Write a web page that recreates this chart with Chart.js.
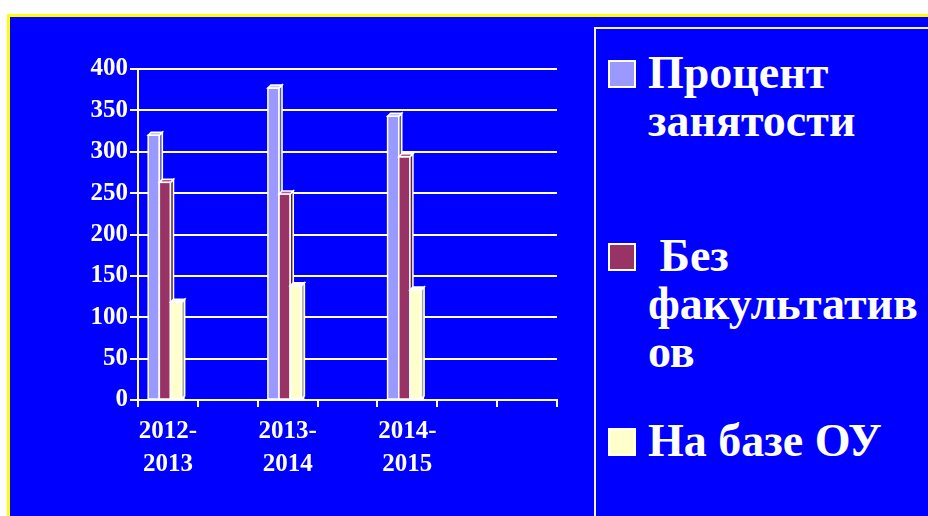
<!DOCTYPE html>
<html>
<head>
<meta charset="utf-8">
<script src="https://cdn.jsdelivr.net/npm/chart.js@4"></script>
<style>
  html, body { margin: 0; padding: 0; background: #fff; width: 928px; height: 516px; overflow: hidden; }
  #frame {
    position: absolute; left: 7px; top: 14px; right: -10px; bottom: -10px;
    background: #0000ff; border-top: 3px solid #ffff00; border-left: 3px solid #ffff00;
  }
  #chartBox { position: absolute; left: 0; top: 0; width: 580px; height: 516px; }
  #legend {
    position: absolute; left: 594px; top: 27px; width: 360px; height: 520px;
    border: 2px solid #f0f0ff; box-sizing: border-box;
  }
  .item { position: absolute; left: 0; }
  .marker { position: absolute; left: 12px; width: 28px; height: 28px; box-sizing: border-box; border: 2px solid #fff; }
  .text {
    position: absolute; left: 52px; white-space: pre; color: #fff;
    font-family: "Liberation Serif", "Times New Roman", serif; font-weight: bold;
    font-size: 46px; line-height: 48px;
  }
</style>
</head>
<body>
<div id="frame"></div>
<div id="chartBox"><canvas id="chart"></canvas></div>
<div id="legend"></div>
<script>
  const categories = [["2012-", "2013"], "", ["2013-", "2014"], "", ["2014-", "2015"], "", ""];
  const seriesNames = [["Процент", "занятости"], [" Без", "факультатив", "ов"], ["На базе ОУ"]];
  const employment = [320, null, 377, null, 343, null, null];
  const noElectives = [263, null, 249, null, 294, null, null];
  const onSchoolBase = [118, null, 138, null, 133, null, null];
  const yTicks = [0, 50, 100, 150, 200, 250, 300, 350, 400];

  const colors = ["#9999ff", "#993366", "#ffffcc"];
  const sideColors = ["#5c5cb0", "#5e1f3f", "#a8a884"];
  const topColors = ["#c4c4ff", "#b85c85", "#ffffe8"];
  const serif = "'Liberation Serif', 'Times New Roman', serif";

  // simple 3D look: the bar element holds front face + depth, redrawn series by series
  const bars3d = {
    id: "bars3d",
    afterDatasetsDraw(chart) {
      const ctx = chart.ctx;
      const d = 3;
      ctx.save();
      ctx.lineWidth = 1.5;
      ctx.strokeStyle = "#ffffff";
      const n = chart.data.labels.length;
      for (let j = 0; j < n; j++) {
        chart.data.datasets.forEach((ds, i) => {
          const bar = chart.getDatasetMeta(i).data[j];
          if (!bar || ds.data[j] == null) return;
          const { x, y, base, width } = bar.getProps(["x", "y", "base", "width"], true);
          const l = x - width / 2 - d, r = x + width / 2 - d;
          ctx.fillStyle = colors[i];
          ctx.fillRect(l, y, r - l, base - y);
          ctx.strokeRect(l, y, r - l, base - y);
          ctx.beginPath();
          ctx.moveTo(r, y); ctx.lineTo(r + d, y - d); ctx.lineTo(r + d, base - d); ctx.lineTo(r, base);
          ctx.closePath();
          ctx.fillStyle = sideColors[i];
          ctx.fill(); ctx.stroke();
          ctx.beginPath();
          ctx.moveTo(l, y); ctx.lineTo(l + d, y - d); ctx.lineTo(r + d, y - d); ctx.lineTo(r, y);
          ctx.closePath();
          ctx.fillStyle = topColors[i];
          ctx.fill(); ctx.stroke();
        });
      }
      ctx.restore();
    }
  };

  const lastLine = categories.length;

  new Chart(document.getElementById("chart"), {
    type: "bar",
    data: {
      labels: categories,
      datasets: [
        { label: seriesNames[0].join(" "), data: employment, backgroundColor: colors[0] },
        { label: seriesNames[1].join(" "), data: noElectives, backgroundColor: colors[1] },
        { label: seriesNames[2].join(" "), data: onSchoolBase, backgroundColor: colors[2] },
      ],
    },
    options: {
      responsive: true,
      maintainAspectRatio: false,
      animation: false,
      layout: { padding: { top: 69, right: 23, left: 0, bottom: 0 } },
      datasets: { bar: { categoryPercentage: 0.56, barPercentage: 1.0, borderWidth: 0 } },
      plugins: { legend: { display: false }, tooltip: { enabled: false } },
      scales: {
        x: {
          grid: {
            offset: true,
            color: (c) => (c.index === lastLine ? "#ffffff" : "rgba(0,0,0,0)"),
            lineWidth: 2,
            tickColor: "#ffffff",
            tickLength: 7,
          },
          border: { color: "#ffffff", width: 2 },
          ticks: {
            color: "#ffffff",
            font: { family: serif, size: 25, weight: "bold", lineHeight: 1.32 },
            padding: 8,
            maxRotation: 0,
            autoSkip: false,
          },
          afterFit(scale) { scale.height = 116; },
        },
        y: {
          min: 0,
          max: 400,
          afterBuildTicks(scale) { scale.ticks = yTicks.map((v) => ({ value: v })); },
          grid: { color: "#ffffff", lineWidth: 2, tickColor: "#ffffff", tickLength: 8 },
          border: { color: "#ffffff", width: 2 },
          ticks: {
            color: "#ffffff",
            font: { family: serif, size: 25, weight: "bold" },
            padding: 2,
          },
          afterFit(scale) { scale.width = 138; },
        },
      },
    },
    plugins: [bars3d],
  });

  // legend laid out like the original, with its line breaks
  const legendTops = [47, 230, 415];
  const legendEl = document.getElementById("legend");
  seriesNames.forEach((lines, i) => {
    const item = document.createElement("div");
    item.className = "item";
    item.style.top = (legendTops[i] - 27) + "px";
    const marker = document.createElement("div");
    marker.className = "marker";
    marker.style.top = "11px";
    marker.style.background = colors[i];
    const text = document.createElement("div");
    text.className = "text";
    text.textContent = lines.join("\n");
    item.appendChild(marker);
    item.appendChild(text);
    legendEl.appendChild(item);
  });
</script>
</body>
</html>
